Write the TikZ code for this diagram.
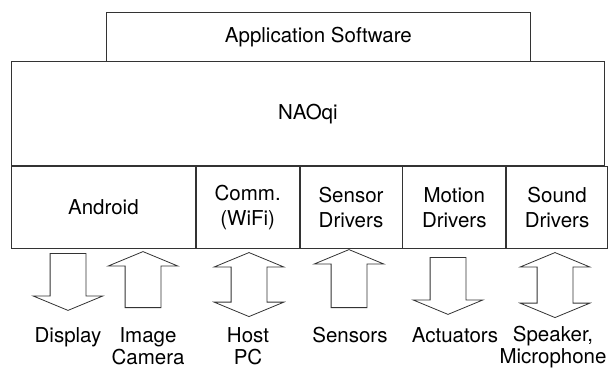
\documentclass[tikz,border=0pt]{standalone}
\usepackage{fontspec}
\setmainfont{TeX Gyre Heros}
\usetikzlibrary{positioning,shapes.arrows}

\begin{document}
\begin{tikzpicture}[x=1pt, y=-1pt, font=\fontsize{20.5}{25}\selectfont,
  layer/.style={draw=black!80, line width=0.8pt, inner sep=0pt, align=center},
  drv/.style={layer, minimum height=82pt},
  blk/.style={draw=black!80, line width=0.8pt, inner xsep=0pt, inner ysep=17.5pt},
  onearrow/.style={blk, single arrow, single arrow head extend=17pt,
    single arrow tip angle=135},
  twoarrow/.style={blk, double arrow, double arrow head extend=17pt,
    double arrow tip angle=135},
  lbl/.style={align=center, inner sep=0pt, anchor=north,
    font=\fontsize{20.5}{22}\selectfont}]
  \useasboundingbox (0,0) rectangle (613,369);

  % layers
  \node[drv, minimum width=184pt, anchor=north west] (android) at (11,166) {Android};
  \node[drv, minimum width=103pt, right=0pt of android] (comm) {Comm.\\(WiFi)};
  \node[drv, minimum width=102pt, right=0pt of comm] (sensor) {Sensor\\Drivers};
  \node[drv, minimum width=103pt, right=0pt of sensor] (motion) {Motion\\Drivers};
  \node[drv, minimum width=101pt, right=0pt of motion] (sound) {Sound\\Drivers};
  \node[layer, minimum width=593pt, minimum height=104pt, anchor=south west]
    (naoqi) at (android.north west) {NAOqi};
  \node[layer, minimum width=424pt, minimum height=49pt, anchor=south west]
    (app) at (106,62) {Application Software};

  % block arrows
  \node[onearrow, rotate=-90, minimum height=57pt, anchor=tail] (dispA) at (68,253) {};
  \node[onearrow, rotate=90, minimum height=56pt, anchor=tail] (camA) at (143,308) {};
  \node[twoarrow, rotate=90, minimum height=64pt, anchor=tip 2] (hostA) at (249,317) {};
  \node[onearrow, rotate=90, minimum height=58pt, anchor=tail] (sensA) at (349,308) {};
  \node[onearrow, rotate=-90, minimum height=57pt, anchor=tail] (actA) at (448,257) {};
  \node[twoarrow, rotate=90, minimum height=65pt, anchor=tip 2] (spkA) at (555,318) {};

  % labels
  \node[lbl] (disp) at (68,327) {Display};
  \node[lbl] (cam) at (148,327) {Image\\Camera};
  \node[lbl] (host) at (248,327) {Host\\PC};
  \node[lbl] (sens) at (350,327) {Sensors};
  \node[lbl] (act) at (455,327) {Actuators};
  \node[lbl] (spk) at (553,326) {Speaker,\\Microphone};
\end{tikzpicture}
\end{document}
